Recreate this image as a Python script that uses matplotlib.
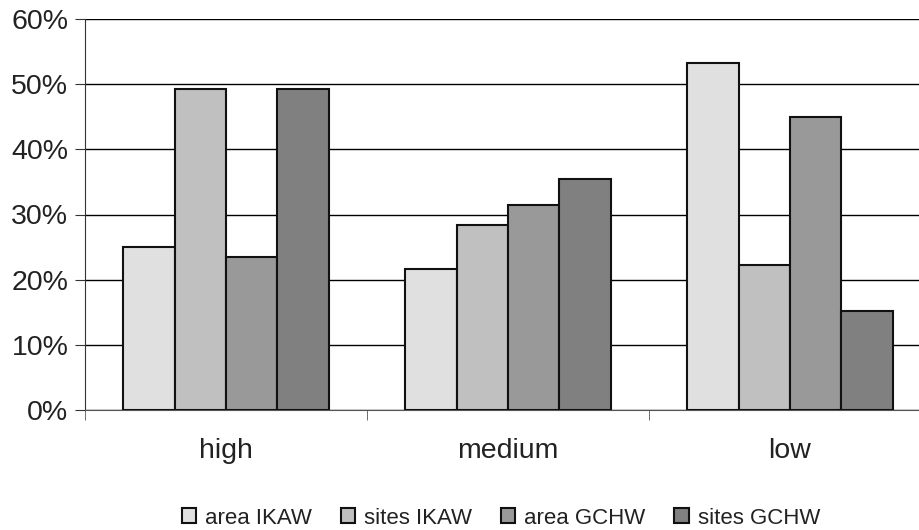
import numpy as np
import matplotlib.pyplot as plt
from matplotlib.ticker import PercentFormatter

# data
categories = ['high', 'medium', 'low']
series = ['area IKAW', 'sites IKAW', 'area GCHW', 'sites GCHW']
area_ikaw = [25.0, 21.6, 53.2]
sites_ikaw = [49.2, 28.4, 22.2]
area_gchw = [23.5, 31.4, 44.9]
sites_gchw = [49.2, 35.4, 15.2]
colors = ['#e0e0e0', '#c0c0c0', '#999999', '#808080']

plt.rcParams['font.family'] = ['Liberation Sans', 'DejaVu Sans']
plt.rcParams['text.color'] = '#222222'
plt.rcParams['xtick.labelcolor'] = '#222222'
plt.rcParams['ytick.labelcolor'] = '#222222'

fig = plt.figure(figsize=(9.19, 5.30), dpi=100)
# plot area runs slightly past the right edge, like the reference
ax = fig.add_axes([85 / 919, 120 / 530, 846 / 919, 391 / 530])

x = np.arange(len(categories))
w = 0.1825
values = [area_ikaw, sites_ikaw, area_gchw, sites_gchw]
for i, (name, vals) in enumerate(zip(series, values)):
    ax.bar(x + (i - 1.5) * w, vals, w, color=colors[i], edgecolor='#111111',
           linewidth=1.5, label=name, zorder=3)

ax.set_ylim(0, 60)
ax.set_xlim(-0.5, 2.5)
ax.set_yticks(np.arange(0, 61, 10))
ax.yaxis.set_major_formatter(PercentFormatter(decimals=0))
ax.grid(axis='y', color='#000000', linewidth=1, zorder=0)

for s in ['top', 'right']:
    ax.spines[s].set_visible(False)
ax.spines['left'].set_color('#333333')
ax.spines['bottom'].set_color('#555555')

ax.set_xticks(x)
ax.set_xticklabels(categories)
ax.set_xticks([-0.5, 0.5, 1.5], minor=True)
ax.tick_params(axis='x', which='major', length=0, pad=20, labelsize=20.5)
ax.tick_params(axis='x', which='minor', length=7, direction='out', color='#555555')
ax.tick_params(axis='y', length=7, direction='out', labelsize=20.5, pad=5, color='#333333')

fig.legend(loc='lower center', bbox_to_anchor=(0.545, -0.035), ncol=4, frameon=False,
           fontsize=16, handlelength=0.65, handleheight=0.65, handletextpad=0.4,
           columnspacing=1.3)

fig.savefig('out.png', dpi=100)
